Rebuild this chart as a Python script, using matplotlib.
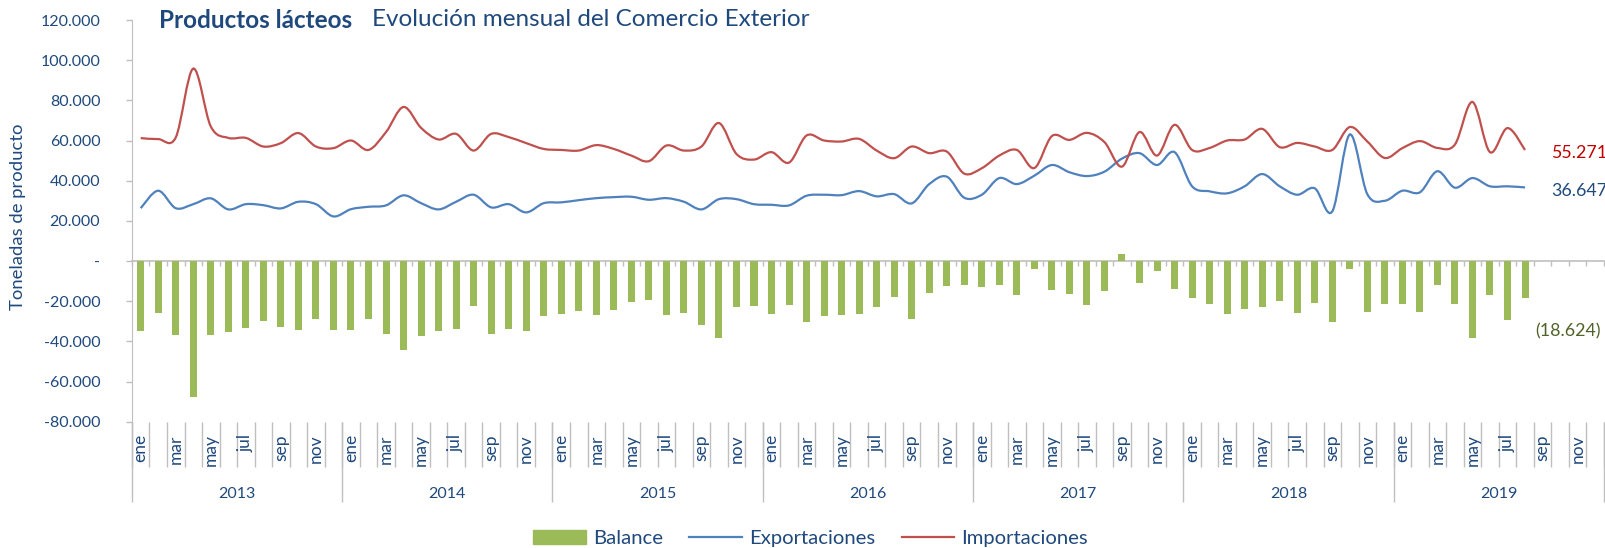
import numpy as np
import matplotlib
matplotlib.use('Agg')
import matplotlib.pyplot as plt
from matplotlib.path import Path
from matplotlib.patches import PathPatch, Patch
from matplotlib.lines import Line2D
from matplotlib.ticker import FuncFormatter

plt.rcParams['font.family'] = ['Lato', 'DejaVu Sans']

# miles de toneladas, ene 2013 - ago 2019
exportaciones = [
    26.3, 35.0, 26.3, 28.3, 31.2, 25.7, 28.3, 27.8, 26.2, 29.5, 28.3, 22.2,
    25.8, 27.0, 27.7, 32.7, 28.8, 25.7, 29.5, 33.0, 26.7, 28.3, 24.2, 28.8,
    29.2, 30.3, 31.3, 31.8, 32.0, 30.5, 31.3, 29.5, 25.7, 30.8, 30.8, 28.3,
    28.0, 27.7, 32.5, 33.0, 32.8, 34.8, 32.2, 33.3, 28.7, 38.3, 42.0, 31.5,
    33.0, 41.3, 38.3, 42.5, 47.8, 44.2, 42.3, 44.5, 51.0, 53.7, 47.8, 54.2,
    37.2, 34.7, 33.7, 37.2, 43.3, 37.2, 33.0, 36.2, 24.7, 63.0, 33.3, 30.0,
    35.0, 34.2, 44.7, 36.5, 41.3, 37.2, 37.2, 36.647,
]
importaciones = [
    61.2, 60.7, 61.5, 95.8, 67.0, 61.3, 61.3, 57.0, 58.7, 63.7, 57.0, 56.2,
    60.0, 55.3, 64.2, 76.7, 66.3, 60.5, 63.3, 55.0, 63.3, 61.7, 58.7, 55.8,
    55.3, 55.0, 57.7, 55.8, 52.5, 49.7, 57.5, 55.0, 57.0, 68.7, 53.3, 50.5,
    54.2, 49.0, 62.5, 60.0, 59.5, 60.8, 55.0, 51.2, 57.0, 53.7, 54.5, 43.5,
    46.2, 52.5, 55.3, 46.3, 62.2, 60.3, 63.8, 59.2, 47.0, 64.2, 52.5, 67.8,
    55.3, 56.3, 60.0, 60.5, 65.8, 56.7, 58.8, 57.0, 55.3, 66.7, 59.5, 51.3,
    56.2, 59.7, 56.3, 58.0, 79.2, 54.2, 66.2, 55.271,
]
balance = [
    -35.0, -26.0, -37.0, -67.8, -36.8, -35.5, -33.2, -29.8, -33.0, -34.3, -29.0, -34.2,
    -34.3, -28.8, -36.4, -44.2, -37.4, -35.0, -34.0, -22.2, -36.4, -33.8, -35.0, -27.2,
    -26.3, -25.0, -26.8, -24.2, -20.4, -19.2, -26.7, -26.0, -31.8, -38.1, -23.0, -22.3,
    -26.3, -21.8, -30.2, -27.2, -27.0, -26.2, -23.0, -18.1, -28.8, -15.8, -12.4, -12.1,
    -12.7, -11.7, -17.1, -4.1, -14.3, -16.2, -22.0, -15.0, 3.7, -11.0, -5.0, -14.0,
    -18.2, -21.4, -26.3, -23.8, -22.9, -20.0, -26.0, -21.0, -30.4, -4.2, -25.6, -21.3,
    -21.3, -25.4, -12.0, -21.5, -38.1, -17.1, -29.2, -18.624,
]
meses = ['ene', 'feb', 'mar', 'abr', 'may', 'jun', 'jul', 'ago', 'sep', 'oct', 'nov', 'dic']
anios = ['2013', '2014', '2015', '2016', '2017', '2018', '2019']

exp = np.array(exportaciones) * 1000
imp = np.array(importaciones) * 1000
bal = np.array(balance) * 1000

TXT = '#1F497D'
GRIS = '#BFBFBF'
VERDE = '#9BBB59'
AZUL = '#4F81BD'
ROJO = '#C0504D'

n_cat = 12 * len(anios)


def curva_suave(xs, ys):
    # linea suavizada tipo Excel (Catmull-Rom en Bezier)
    pts = np.column_stack([xs, ys]).astype(float)
    ext = np.vstack([pts[0], pts, pts[-1]])
    verts = [pts[0]]
    codes = [Path.MOVETO]
    for i in range(len(pts) - 1):
        p0, p1, p2, p3 = ext[i], ext[i + 1], ext[i + 2], ext[i + 3]
        verts += [p1 + (p2 - p0) / 6, p2 - (p3 - p1) / 6, p2]
        codes += [Path.CURVE4] * 3
    return Path(verts, codes)


fig = plt.figure(figsize=(16.05, 5.48), dpi=100)
ax = fig.add_axes([0.0822, 0.2305, 0.9171, 0.7330])

x = np.arange(len(exp))
ax.bar(x, bal, width=0.4, color=VERDE, zorder=2)
ax.add_patch(PathPatch(curva_suave(x, exp), fill=False, edgecolor=AZUL, lw=1.6, zorder=3))
ax.add_patch(PathPatch(curva_suave(x, imp), fill=False, edgecolor=ROJO, lw=1.6, zorder=3))

ax.set_xlim(-0.5, n_cat - 0.5)
ax.set_ylim(-80000, 120000)

# eje y
ax.set_yticks(np.arange(-80000, 120001, 20000))
ax.yaxis.set_major_formatter(FuncFormatter(
    lambda v, p: '-' if v == 0 else f'{v:,.0f}'.replace(',', '.')))
ax.tick_params(axis='y', colors=GRIS, labelcolor=TXT, length=4.3, width=1,
               pad=18.5, labelsize=11.5)
for s in ['top', 'right', 'bottom']:
    ax.spines[s].set_visible(False)
ax.spines['left'].set_color(GRIS)
ax.set_ylabel('Toneladas de producto', color=TXT, fontsize=13.3)
ax.yaxis.set_label_coords(-0.072, 0.51)

# eje de categorias: meses
bordes = np.arange(-0.5, n_cat, 1)
ax.set_xticks(bordes, labels=[''] * len(bordes))
impares = np.arange(0, n_cat, 2)
ax.set_xticks(impares, labels=[meses[i % 12] for i in impares], minor=True)
ax.tick_params(axis='x', which='major', length=32.4, color=GRIS, width=1)
ax.tick_params(axis='x', which='minor', length=0, pad=9.0, labelsize=12.5,
               labelcolor=TXT, labelrotation=90)

# años
sec = ax.secondary_xaxis('bottom')
bordes_anio = np.arange(-0.5, n_cat, 12)
sec.set_xticks(bordes_anio, labels=[''] * len(bordes_anio))
sec.set_xticks(np.arange(5.5, n_cat, 12), labels=anios, minor=True)
sec.tick_params(which='major', length=57.6, color=GRIS, width=1)
sec.tick_params(which='minor', length=0, pad=47, labelsize=11.5, labelcolor=TXT)
sec.spines['bottom'].set_visible(False)

# linea del cero
cero = ax.secondary_xaxis(0, transform=ax.transData)
cero.set_xticks(bordes, labels=[''] * len(bordes))
cero.tick_params(length=3.6, color=GRIS, width=1, direction='out')
cero.spines['bottom'].set_color(GRIS)
cero.spines['bottom'].set_linewidth(1.2)

# etiquetas del ultimo dato
fmt = lambda v: f'{v:,.0f}'.replace(',', '.')
ax.text(x[-1] + 1.5, imp[-1] - 1600, fmt(imp[-1]), color='#C00000',
        fontsize=12.8, va='center', ha='left')
ax.text(x[-1] + 1.5, exp[-1] - 1600, fmt(exp[-1]), color=TXT,
        fontsize=12.8, va='center', ha='left')
ax.text(x[-1] + 0.6, bal[-1] - 16400, '(' + fmt(-bal[-1]) + ')', color='#4F6228',
        fontsize=12.8, va='center', ha='left')

# titulo
fig.text(159 / 1605, 1 - 20 / 548, 'Productos lácteos', fontweight='bold',
         fontsize=17.5, color=TXT, va='center')
fig.text(372 / 1605, 1 - 20 / 548, 'Evolución mensual del Comercio Exterior',
         fontsize=17.5, color=TXT, va='center')

handles = [Patch(color=VERDE), Line2D([], [], color=AZUL, lw=1.6),
           Line2D([], [], color=ROJO, lw=1.6)]
fig.legend(handles, ['Balance', 'Exportaciones', 'Importaciones'], loc='center',
           bbox_to_anchor=(0.505, 0.018), ncol=3, frameon=False, fontsize=14.6,
           handlelength=2.6, handleheight=0.7, handletextpad=0.35,
           columnspacing=1.3, labelcolor=TXT)

fig.savefig('out.png', dpi=100)
